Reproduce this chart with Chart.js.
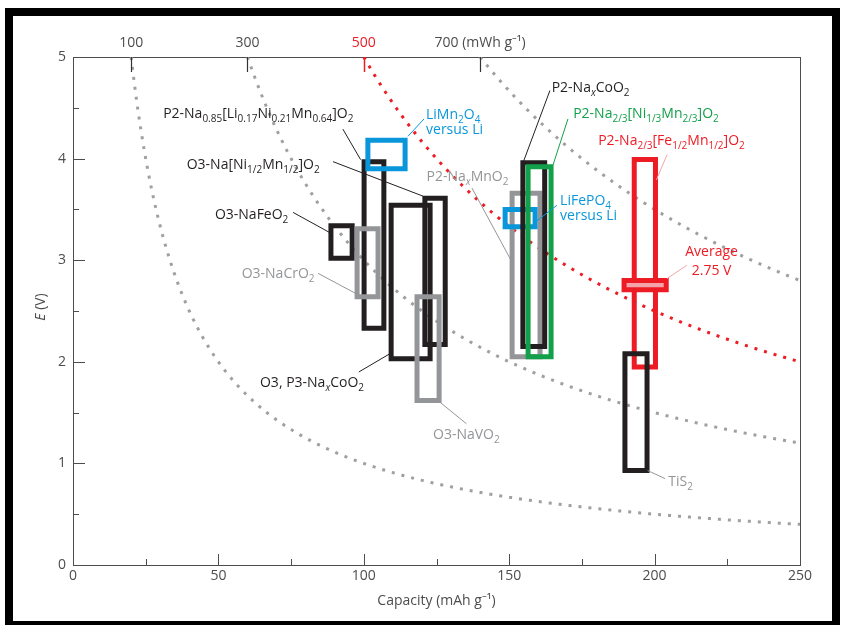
<!DOCTYPE html>
<html>
<head>
<meta charset="utf-8">
<script src="https://cdn.jsdelivr.net/npm/chart.js@4.4.1/dist/chart.umd.min.js"></script>
<style>
  html, body { margin: 0; padding: 0; background: #fff; overflow: hidden; }
  #wrap { width: 842px; height: 625px; }
</style>
</head>
<body>
<div id="wrap"><canvas id="voltage-capacity" width="842" height="625"></canvas></div>
<script>
(function () {
  'use strict';

  // Electrode materials: capacity window (mAh/g) and voltage window (V)
  const materials = [
    'P2-NaxMnO2', 'LiFePO4', 'P2-NaxCoO2', 'P2-Na2/3[Ni1/3Mn2/3]O2',
    'O3-NaFeO2', 'P2-Na0.85[Li0.17Ni0.21Mn0.64]O2', 'O3-NaCrO2',
    'O3, P3-NaxCoO2', 'O3-Na[Ni1/2Mn1/2]O2', 'O3-NaVO2', 'LiMn2O4',
    'P2-Na2/3[Fe1/2Mn1/2]O2', 'Average 2.75 V', 'TiS2'
  ];
  const capLow   = [151.0, 148.6, 154.7, 156.5,  88.7, 100.1,  97.7, 109.4, 121.0, 118.3, 101.4, 193.0, 189.5, 189.8];
  const capHigh  = [160.6, 158.9, 162.2, 164.4,  96.0, 106.9, 104.9, 122.8, 128.0, 125.9, 114.2, 200.3, 204.0, 197.4];
  const voltLow  = [2.05, 3.33, 2.15, 2.05, 3.02, 2.33, 2.64, 2.03, 2.17, 1.62, 3.90, 1.95, 2.71, 0.93];
  const voltHigh = [3.66, 3.50, 3.96, 3.92, 3.34, 3.97, 3.31, 3.54, 3.61, 2.64, 4.18, 3.99, 2.80, 2.08];

  // Constant specific-energy guides (mWh/g), E = energy / capacity
  const energyLevels = [100, 300, 500, 700];
  const highlightEnergy = 500;

  // Axis ticks
  const capTicks = [0, 50, 100, 150, 200, 250];
  const voltTicks = [0, 1, 2, 3, 4, 5];

  const BLACK = '#231f20';
  const GREY = '#949598';
  const BLUE = '#0a96da';
  const GREEN = '#12a14a';
  const RED = '#ed1c24';
  const PINK = '#f4a3a8';
  const AXIS = '#4d4d4d';

  const boxStyle = {
    'P2-NaxMnO2': { color: GREY },
    'LiFePO4': { color: BLUE },
    'P2-NaxCoO2': { color: BLACK },
    'P2-Na2/3[Ni1/3Mn2/3]O2': { color: GREEN },
    'O3-NaFeO2': { color: BLACK },
    'P2-Na0.85[Li0.17Ni0.21Mn0.64]O2': { color: BLACK },
    'O3-NaCrO2': { color: GREY },
    'O3, P3-NaxCoO2': { color: BLACK },
    'O3-Na[Ni1/2Mn1/2]O2': { color: BLACK },
    'O3-NaVO2': { color: GREY },
    'LiMn2O4': { color: BLUE },
    'P2-Na2/3[Fe1/2Mn1/2]O2': { color: RED },
    'Average 2.75 V': { color: RED, fill: PINK },
    'TiS2': { color: BLACK }
  };

  // Text notes, placed in data units; _{..} = subscript
  const notes = [
    { text: 'P2-Na_{0.85}[Li_{0.17}Ni_{0.21}Mn_{0.64}]O_{2}', at: [31.0, 4.44], color: BLACK, lead: [[92.8, 4.29], [98.9, 3.99]] },
    { text: 'LiMn_{2}O_{4}', at: [121.4, 4.43], color: BLUE, lead: [[120.7, 4.39], [115.2, 4.22]] },
    { text: 'versus Li', at: [121.4, 4.28], color: BLUE },
    { text: 'O3-Na[Ni_{1/2}Mn_{1/2}]O_{2}', at: [39.1, 3.94], color: BLACK, lead: [[89.4, 3.97], [120.4, 3.63]] },
    { text: 'O3-NaFeO_{2}', at: [48.8, 3.44], color: BLACK, lead: [[75.7, 3.47], [88.4, 3.27]] },
    { text: 'O3-NaCrO_{2}', at: [58.0, 2.86], color: GREY, lead: [[84.3, 2.87], [97.4, 2.67]] },
    { text: 'O3, P3-Na_{x}CoO_{2}', at: [64.3, 1.79], color: BLACK, lead: [[98.3, 1.90], [109.0, 2.08]] },
    { text: 'O3-NaVO_{2}', at: [123.8, 1.28], color: GREY, lead: [[126.3, 1.60], [135.3, 1.39]] },
    { text: 'P2-Na_{x}MnO_{2}', at: [121.6, 3.82], color: GREY, lead: [[137.2, 3.71], [150.8, 2.99]] },
    { text: 'P2-Na_{x}CoO_{2}', at: [164.6, 4.69], color: BLACK, lead: [[164.0, 4.67], [154.9, 3.97]] },
    { text: 'P2-Na_{2/3}[Ni_{1/3}Mn_{2/3}]O_{2}', at: [172.0, 4.44], color: GREEN, lead: [[170.2, 4.39], [165.1, 3.94]] },
    { text: 'P2-Na_{2/3}[Fe_{1/2}Mn_{1/2}]O_{2}', at: [180.6, 4.17], color: RED, lead: [[204.3, 4.04], [200.6, 3.79]], leadColor: PINK },
    { text: 'LiFePO_{4}', at: [167.5, 3.58], color: BLUE, lead: [[166.4, 3.54], [159.2, 3.38]] },
    { text: 'versus Li', at: [167.5, 3.43], color: BLUE },
    { text: 'Average', at: [219.6, 3.08], color: RED, align: 'center', lead: [[211.1, 2.95], [204.3, 2.82]], leadColor: PINK },
    { text: '2.75 V', at: [219.6, 2.89], color: RED, align: 'center' },
    { text: 'TiS_{2}', at: [204.7, 0.82], color: GREY, lead: [[197.6, 0.93], [203.6, 0.85]] }
  ];

  const FONT = '"Open Sans", "Noto Sans", sans-serif';
  const vMax = voltTicks[voltTicks.length - 1];

  function parseRich(str) {
    const out = [];
    const re = /([_^])\{([^}]*)\}/g;
    let last = 0, m;
    while ((m = re.exec(str))) {
      if (m.index > last) out.push({ t: str.slice(last, m.index), k: 'n' });
      out.push({ t: m[2], k: m[1] === '_' ? 'sub' : 'sup' });
      last = re.lastIndex;
    }
    if (last < str.length) out.push({ t: str.slice(last), k: 'n' });
    return out;
  }

  function segFont(s) {
    if (s.k === 'n') return '14px ' + FONT;
    return (s.t === 'x' ? 'italic ' : '') + '10px ' + FONT;
  }

  function drawRich(ctx, str, x, y, color, align) {
    const segs = parseRich(str);
    let total = 0;
    segs.forEach((s) => { ctx.font = segFont(s); s.w = ctx.measureText(s.t).width; total += s.w; });
    let cx = align === 'center' ? x - total / 2 : x;
    ctx.fillStyle = color;
    ctx.textBaseline = 'middle';
    ctx.textAlign = 'left';
    segs.forEach((s) => {
      ctx.font = segFont(s);
      const dy = s.k === 'sub' ? 5 : (s.k === 'sup' ? -5 : 0);
      ctx.fillText(s.t, cx, y + dy);
      cx += s.w;
    });
  }

  const datasets = materials.map((m, i) => {
    const st = boxStyle[m];
    return {
      label: m,
      data: [
        { x: capLow[i], y: voltLow[i] },
        { x: capHigh[i], y: voltLow[i] },
        { x: capHigh[i], y: voltHigh[i] },
        { x: capLow[i], y: voltHigh[i] },
        { x: capLow[i], y: voltLow[i] }
      ],
      showLine: true,
      borderColor: st.color,
      borderWidth: 5,
      borderJoinStyle: 'miter',
      borderCapStyle: 'square',
      backgroundColor: st.fill || 'rgba(0,0,0,0)',
      fill: st.fill ? 'shape' : false,
      pointRadius: 0,
      tension: 0,
      order: materials.length - i
    };
  });

  // iso-energy dotted guides
  const energyCurves = {
    id: 'energyCurves',
    beforeDatasetsDraw(chart) {
      const { ctx, chartArea, scales: { x, y } } = chart;
      ctx.save();
      ctx.beginPath();
      ctx.rect(chartArea.left, chartArea.top, chartArea.right - chartArea.left, chartArea.bottom - chartArea.top);
      ctx.clip();
      energyLevels.forEach((w) => {
        ctx.beginPath();
        const c0 = w / vMax;
        const p0 = x.getPixelForValue(c0);
        ctx.moveTo(p0, y.getPixelForValue(vMax));
        for (let px = Math.ceil(p0); px <= chartArea.right; px += 1) {
          const c = x.getValueForPixel(px);
          ctx.lineTo(px, y.getPixelForValue(w / c));
        }
        ctx.strokeStyle = w === highlightEnergy ? RED : '#a0a0a0';
        ctx.lineWidth = 3;
        ctx.setLineDash([3, 7]);
        ctx.stroke();
      });
      ctx.restore();
    }
  };

  const decorations = {
    id: 'decorations',
    afterDraw(chart) {
      const { ctx, chartArea, scales: { x, y } } = chart;
      ctx.save();

      // inward tick marks
      ctx.lineWidth = 1;
      ctx.strokeStyle = AXIS;
      for (let v = 25; v < 250; v += 25) {
        const px = Math.round(x.getPixelForValue(v)) + 0.5;
        const len = v % 50 === 0 ? 11 : 6;
        ctx.beginPath();
        ctx.moveTo(px, chartArea.bottom);
        ctx.lineTo(px, chartArea.bottom - len);
        ctx.stroke();
      }
      for (let v = 0.5; v < 5; v += 0.5) {
        const py = Math.round(y.getPixelForValue(v)) + 0.5;
        const len = Number.isInteger(v) ? 12 : 6;
        ctx.beginPath();
        ctx.moveTo(chartArea.left, py);
        ctx.lineTo(chartArea.left + len, py);
        ctx.stroke();
      }
      energyLevels.forEach((w) => {
        const px = Math.round(x.getPixelForValue(w / vMax)) + 0.5;
        ctx.strokeStyle = w === highlightEnergy ? RED : '#333';
        ctx.lineWidth = w === highlightEnergy ? 1.5 : 1.2;
        ctx.beginPath();
        ctx.moveTo(px, chartArea.top);
        ctx.lineTo(px, chartArea.top + 15);
        ctx.stroke();
      });

      // y axis title
      ctx.save();
      ctx.translate(41, 307);
      ctx.rotate(-Math.PI / 2);
      ctx.fillStyle = AXIS;
      ctx.textBaseline = 'middle';
      ctx.font = 'italic 14px ' + FONT;
      const wE = ctx.measureText('E').width;
      ctx.font = '14px ' + FONT;
      const wV = ctx.measureText(' (V)').width;
      ctx.textAlign = 'left';
      ctx.font = 'italic 14px ' + FONT;
      ctx.fillText('E', -(wE + wV) / 2, 0);
      ctx.font = '14px ' + FONT;
      ctx.fillText(' (V)', -(wE + wV) / 2 + wE, 0);
      ctx.restore();

      // leader lines and labels
      notes.forEach((n) => {
        if (n.lead) {
          ctx.beginPath();
          ctx.moveTo(x.getPixelForValue(n.lead[0][0]), y.getPixelForValue(n.lead[0][1]));
          ctx.lineTo(x.getPixelForValue(n.lead[1][0]), y.getPixelForValue(n.lead[1][1]));
          ctx.strokeStyle = n.leadColor || n.color;
          ctx.lineWidth = 1;
          ctx.stroke();
        }
      });
      notes.forEach((n) => {
        drawRich(ctx, n.text, x.getPixelForValue(n.at[0]), y.getPixelForValue(n.at[1]), n.color, n.align);
      });

      // black frame round the figure
      ctx.lineWidth = 8;
      ctx.strokeStyle = '#000';
      ctx.strokeRect(9, 12, 827, 613);
      ctx.restore();
    }
  };

  const tickFont = { family: FONT, size: 14 };

  new Chart(document.getElementById('voltage-capacity'), {
    type: 'scatter',
    data: { datasets: datasets },
    options: {
      responsive: false,
      animation: false,
      events: [],
      layout: { padding: 0 },
      plugins: { legend: { display: false }, tooltip: { enabled: false } },
      scales: {
        x: {
          type: 'linear', position: 'bottom', min: 0, max: 250,
          afterBuildTicks: (s) => { s.ticks = capTicks.map((v) => ({ value: v })); },
          afterFit: (s) => { s.height = 60; },
          grid: { display: false, drawTicks: false },
          border: { display: true, color: AXIS, width: 1 },
          ticks: { color: AXIS, font: tickFont, padding: 3, autoSkip: false, maxRotation: 0 },
          title: { display: true, text: 'Capacity (mAh g⁻¹)', color: AXIS, font: tickFont, padding: { top: 0, bottom: 16 } }
        },
        x2: {
          type: 'linear', position: 'top', min: 0, max: 250,
          afterBuildTicks: (s) => { s.ticks = energyLevels.map((w) => ({ value: w / vMax })); },
          afterFit: (s) => { s.height = 57; },
          grid: { display: false, drawTicks: false },
          border: { display: true, color: AXIS, width: 1 },
          ticks: {
            font: tickFont, padding: 6, autoSkip: false, maxRotation: 0,
            color: (c) => (energyLevels[c.index] === highlightEnergy ? RED : AXIS),
            callback: (v, i) => (i === energyLevels.length - 1 ? energyLevels[i] + ' (mWh g⁻¹)' : String(energyLevels[i]))
          }
        },
        y: {
          type: 'linear', position: 'left', min: 0, max: 5,
          afterBuildTicks: (s) => { s.ticks = voltTicks.map((v) => ({ value: v })); },
          afterFit: (s) => { s.width = 73; },
          grid: { display: false, drawTicks: false },
          border: { display: true, color: AXIS, width: 1 },
          ticks: { color: AXIS, font: tickFont, padding: 7 }
        },
        y2: {
          type: 'linear', position: 'right', min: 0, max: 5,
          afterFit: (s) => { s.width = 42; },
          grid: { display: false, drawTicks: false },
          border: { display: true, color: AXIS, width: 1 },
          ticks: { display: false }
        }
      }
    },
    plugins: [energyCurves, decorations]
  });
})();
</script>
</body>
</html>
